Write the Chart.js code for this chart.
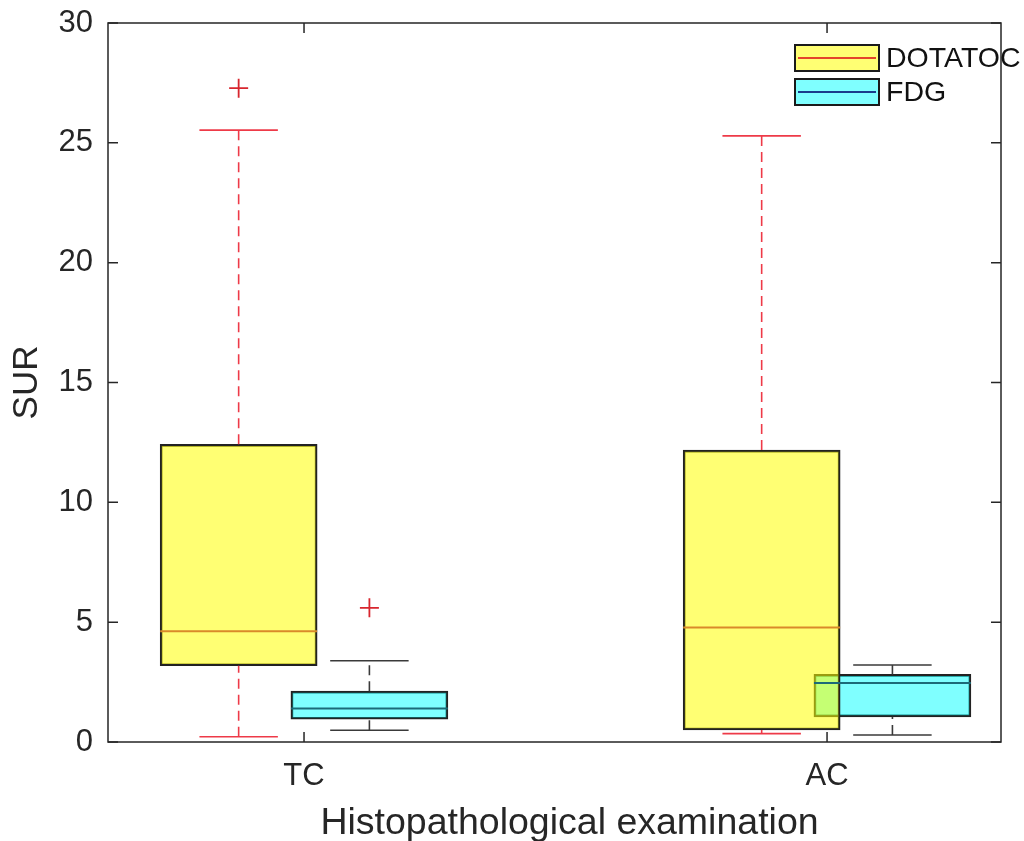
<!DOCTYPE html>
<html>
<head>
<meta charset="utf-8">
<script src="https://cdn.jsdelivr.net/npm/chart.js@4"></script>
<style>
  body { margin: 0; background: #fff; }
  #box-chart { display: block; }
</style>
</head>
<body>
<canvas id="box-chart" width="1024" height="841"></canvas>
<script>
const groups = ['TC', 'AC'];

const dotatocLow = [0.22, 0.35];
const dotatocQ1 = [3.18, 0.50];
const dotatocMedian = [4.62, 4.78];
const dotatocQ3 = [12.42, 12.18];
const dotatocHigh = [25.53, 25.29];
const dotatocOutliers = [[27.28], []];

const fdgLow = [0.49, 0.29];
const fdgQ1 = [0.95, 1.05];
const fdgMedian = [1.40, 2.46];
const fdgQ3 = [2.12, 2.82];
const fdgHigh = [3.39, 3.21];
const fdgOutliers = [[5.60], []];

const yTicks = [0, 5, 10, 15, 20, 25, 30];
const xTitle = 'Histopathological examination';

const FONT = "'Liberation Sans', Arial, sans-serif";
const INK = '#262626';

// one series of boxes, offset from the group position
function boxSeries(label, low, q1, med, q3, high, outliers, offset, opts) {
  const sets = [];
  const seg = (pts, color, dash, width) => ({
    type: 'line',
    label: label,
    data: pts,
    borderColor: color,
    borderWidth: width || 1.6,
    borderDash: dash || [],
    pointRadius: 0,
    fill: false,
    order: 0
  });
  groups.forEach((g, i) => {
    const c = i + 1 + offset;
    sets.push(seg([{x: c, y: q3[i]}, {x: c, y: high[i]}], opts.whisker, [10, 6]));
    sets.push(seg([{x: c, y: low[i]}, {x: c, y: q1[i]}], opts.whisker, [10, 6]));
    sets.push(seg([{x: c - 0.075, y: high[i]}, {x: c + 0.075, y: high[i]}], opts.whisker));
    sets.push(seg([{x: c - 0.075, y: low[i]}, {x: c + 0.075, y: low[i]}], opts.whisker));
    sets.push(seg([{x: c - 0.15, y: med[i]}, {x: c + 0.15, y: med[i]}], opts.median, [], 2));
  });
  sets.push({
    type: 'scatter',
    label: label,
    data: groups.flatMap((g, i) => outliers[i].map(v => ({x: i + 1 + offset, y: v}))),
    pointStyle: 'cross',
    pointRadius: 9.5,
    borderColor: '#d8262e',
    borderWidth: 1.8,
    order: 0
  });
  sets.unshift({
    type: 'bar',
    label: label,
    data: groups.map((g, i) => ({x: i + 1 + offset, y: [q1[i], q3[i]]})),
    backgroundColor: opts.fill,
    borderColor: '#222',
    borderWidth: 2,
    borderSkipped: false,
    barThickness: 157,
    grouped: false,
    order: opts.order
  });
  return sets;
}

const datasets = [].concat(
  boxSeries('FDG', fdgLow, fdgQ1, fdgMedian, fdgQ3, fdgHigh, fdgOutliers, 0.125,
    {fill: 'rgba(0,255,255,0.5)', whisker: '#3a3a3a', median: '#1c6a78', order: 3}),
  boxSeries('DOTATOC', dotatocLow, dotatocQ1, dotatocMedian, dotatocQ3, dotatocHigh, dotatocOutliers, -0.125,
    {fill: 'rgba(255,255,0,0.55)', whisker: '#ee3a48', median: '#d98a2a', order: 2})
);

const legendItems = [
  {label: 'DOTATOC', fill: 'rgba(255,255,0,0.55)', line: '#e4452a'},
  {label: 'FDG', fill: 'rgba(0,255,255,0.5)', line: '#1a3c8c'}
];

const matlabFrame = {
  id: 'matlabFrame',
  afterDatasetsDraw(chart) {
    const {ctx, chartArea: a, scales: {x, y}} = chart;
    ctx.save();
    ctx.strokeStyle = INK;
    ctx.lineWidth = 1.5;
    ctx.strokeRect(a.left, a.top, a.right - a.left, a.bottom - a.top);
    ctx.beginPath();
    y.ticks.forEach(t => {
      const py = y.getPixelForValue(t.value);
      ctx.moveTo(a.left, py); ctx.lineTo(a.left + 10, py);
      ctx.moveTo(a.right, py); ctx.lineTo(a.right - 10, py);
    });
    x.ticks.forEach(t => {
      const px = x.getPixelForValue(t.value);
      ctx.moveTo(px, a.bottom); ctx.lineTo(px, a.bottom - 10);
      ctx.moveTo(px, a.top); ctx.lineTo(px, a.top + 10);
    });
    ctx.stroke();
    ctx.restore();
  },
  afterDraw(chart) {
    const {ctx, chartArea: a} = chart;
    ctx.save();
    // x axis label, sits a little right of centre as in the original
    ctx.fillStyle = INK;
    ctx.font = '37.5px ' + FONT;
    ctx.textAlign = 'center';
    ctx.textBaseline = 'alphabetic';
    ctx.fillText(xTitle, (a.left + a.right) / 2 + 15, a.bottom + 92);

    ctx.textAlign = 'left';
    legendItems.forEach((item, i) => {
      const lx = a.right - 206, ly = a.top + 22 + i * 34, w = 84, h = 26;
      ctx.fillStyle = '#fff';
      ctx.fillRect(lx, ly, w, h);
      ctx.fillStyle = item.fill;
      ctx.fillRect(lx, ly, w, h);
      ctx.strokeStyle = '#1a1a1a';
      ctx.lineWidth = 2;
      ctx.strokeRect(lx, ly, w, h);
      ctx.strokeStyle = item.line;
      ctx.lineWidth = 2.2;
      ctx.beginPath();
      ctx.moveTo(lx + 3, ly + h / 2);
      ctx.lineTo(lx + w - 3, ly + h / 2);
      ctx.stroke();
      ctx.fillStyle = '#111';
      ctx.font = '28.5px ' + FONT;
      ctx.textBaseline = 'middle';
      ctx.fillText(item.label, lx + w + 7, ly + h / 2 + 1);
    });
    ctx.restore();
  }
};

new Chart(document.getElementById('box-chart'), {
  type: 'bar',
  data: { datasets: datasets },
  plugins: [matlabFrame],
  options: {
    responsive: false,
    animation: false,
    layout: { padding: { left: 0, top: 23, right: 23, bottom: 0 } },
    scales: {
      x: {
        type: 'linear',
        offset: false,
        min: 0.6252,
        max: 2.3326,
        grid: { display: false, drawTicks: false, offset: false },
        border: { display: false },
        afterBuildTicks: scale => { scale.ticks = groups.map((g, i) => ({value: i + 1})); },
        afterFit: scale => {
          scale.height = 99;
          scale.paddingLeft = 0;
          scale.paddingRight = 0;
        },
        ticks: {
          padding: 16,
          color: INK,
          font: { family: FONT, size: 31 },
          callback: v => groups[v - 1]
        },
        title: { display: false, text: xTitle }
      },
      y: {
        min: 0,
        max: 30,
        grid: { display: false, drawTicks: false },
        border: { display: false },
        afterBuildTicks: scale => { scale.ticks = yTicks.map(v => ({value: v})); },
        afterFit: scale => {
          scale.width = 108;
          scale.paddingTop = 0;
          scale.paddingBottom = 0;
        },
        ticks: {
          padding: 15,
          color: INK,
          font: { family: FONT, size: 31 }
        },
        title: {
          display: true,
          text: 'SUR',
          color: INK,
          font: { family: FONT, size: 35 },
          padding: { top: 6, bottom: 0 }
        }
      }
    },
    plugins: {
      legend: { display: false },
      tooltip: { enabled: false }
    }
  }
});
</script>
</body>
</html>
